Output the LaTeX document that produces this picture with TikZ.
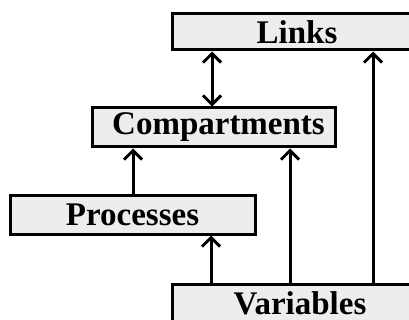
\documentclass[tikz,border=0pt]{standalone}
\usepackage{fontspec}
\setmainfont{Liberation Serif}
\usetikzlibrary{arrows.meta}
\tikzset{
  box/.style={draw=black, line width=3pt, fill=black!7, rectangle, inner sep=0pt,
    font=\fontsize{33}{36}\selectfont\bfseries, text=black},
  arr/.style={line width=3pt, -{Straight Barb[length=9pt,width=18pt]}},
  darr/.style={line width=3pt, {Straight Barb[length=9pt,width=18pt]}-{Straight Barb[length=9pt,width=18pt]}}
}
\begin{document}
\begin{tikzpicture}[x=1pt,y=-1pt]
\useasboundingbox (0,0) rectangle (409,320);
\clip (0,0) rectangle (409,320);
\node[box, minimum width=250pt, minimum height=36pt] (links) at (297,32) {Links};
\node[box, minimum width=243pt, minimum height=39pt] (comp) at (213.5,127.5) {\hspace*{10pt}Compartments};
\node[box, minimum width=245pt, minimum height=38pt] (proc) at (132.5,215) {Processes};
\node[box, minimum width=256pt, minimum height=38pt] (vars) at (300,303) {Variables};
\draw[darr] (links.south -| 212,0) -- (comp.north -| 212,0);
\draw[arr] (proc.north -| 133,0) -- (comp.south -| 133,0);
\draw[arr] (vars.north -| 290,0) -- (comp.south -| 290,0);
\draw[arr] (vars.north -| 373,0) -- (links.south -| 373,0);
\draw[arr] (vars.north -| 211,0) -- (proc.south -| 211,0);
\end{tikzpicture}
\end{document}
